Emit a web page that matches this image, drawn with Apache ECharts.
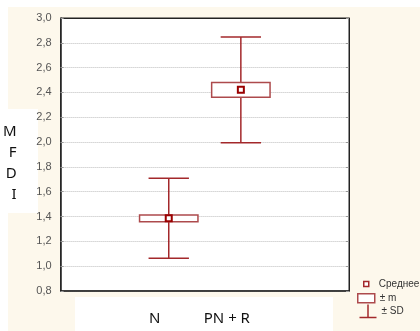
<!DOCTYPE html>
<html>
<head>
<meta charset="utf-8">
<script src="https://cdn.jsdelivr.net/npm/echarts@6/dist/echarts.min.js"></script>
<style>
  html, body {margin: 0; padding: 0; background: #fff;}
  #chart {width: 420px; height: 331px;}
</style>
</head>
<body>
<div id="chart"></div>
<script>
// category slots on the x axis (outer two are empty padding slots)
const categories = ['', 'N', 'PN + R', '']
const groups = ['N', 'PN + R']
const means = [1.386, 2.421]   // Среднее
const m = [0.027, 0.059]       // ± m (box half height)
const sd = [0.322, 0.426]      // ± SD (whisker half length)

const red = '#a3282b'
const boxRed = '#ad4a4c'
const cream = '#fdf8ec'

const rows = groups.map((g, i) => [g, means[i], m[i], sd[i]])

const chart = echarts.init(document.getElementById('chart'))

const boxItem = (params, api) => {
  const x = api.value(0)
  const mean = api.value(1)
  const half = api.value(2)
  const band = api.size([1, 0])[0]
  const top = api.coord([x, mean + half])
  const bot = api.coord([x, mean - half])
  const w = band * 0.81
  return {
    type: 'rect',
    shape: {x: top[0] - w / 2, y: top[1], width: w, height: bot[1] - top[1]},
    style: {fill: '#fff', stroke: boxRed, lineWidth: 1.5}
  }
}

const sdItem = (params, api) => {
  const x = api.value(0)
  const mean = api.value(1)
  const half = api.value(2)
  const s = api.value(3)
  const band = api.size([1, 0])[0]
  const cap = band * 0.56
  const hi = api.coord([x, mean + s])
  const bh = api.coord([x, mean + half])
  const bl = api.coord([x, mean - half])
  const lo = api.coord([x, mean - s])
  const st = {stroke: red, lineWidth: 1.5}
  return {
    type: 'group',
    children: [
      {type: 'line', shape: {x1: hi[0], y1: hi[1], x2: bh[0], y2: bh[1]}, style: st},
      {type: 'line', shape: {x1: bl[0], y1: bl[1], x2: lo[0], y2: lo[1]}, style: st},
      {type: 'line', shape: {x1: hi[0] - cap / 2, y1: hi[1], x2: hi[0] + cap / 2, y2: hi[1]}, style: st},
      {type: 'line', shape: {x1: lo[0] - cap / 2, y1: lo[1], x2: lo[0] + cap / 2, y2: lo[1]}, style: st}
    ]
  }
}

const fmt = (v) => v.toFixed(1).replace('.', ',')
const legendText = {color: '#333', fontSize: 10, fontFamily: 'Liberation Sans'}

chart.setOption({
  backgroundColor: cream,
  animation: false,
  graphic: [
    {type: 'rect', z: -10, silent: true, shape: {x: 0, y: 0, width: 420, height: 7}, style: {fill: '#fff'}},
    {type: 'rect', z: -10, silent: true, shape: {x: 0, y: 0, width: 8, height: 331}, style: {fill: '#fff'}},
    {type: 'rect', z: -10, silent: true, shape: {x: 0, y: 109, width: 38, height: 104}, style: {fill: '#fff'}},
    {type: 'rect', z: -10, silent: true, shape: {x: 75, y: 297, width: 258, height: 34}, style: {fill: '#fff'}}
  ],
  grid: {
    left: 58, top: 18, right: 71, bottom: 40,
    show: true, backgroundColor: '#fff', borderColor: '#222', borderWidth: 1
  },
  legend: [
    {
      data: [{name: 'Среднее', icon: 'rect', itemStyle: {color: '#fff', borderColor: red, borderWidth: 1.5}}],
      left: 363, top: 279, itemWidth: 5, itemHeight: 5, padding: 0,
      textStyle: {...legendText, padding: [0, 0, 0, 5]}
    },
    {
      data: [{name: '± m', icon: 'path://M0,0H17V9H0Z', itemStyle: {color: '#fff', borderColor: boxRed, borderWidth: 1.5}}],
      left: 357, top: 293, itemWidth: 17, itemHeight: 9, padding: 0,
      textStyle: legendText
    },
    {
      data: [{name: '± SD', icon: 'path://M8.5,0V13M0,13H17', itemStyle: {color: 'none', borderColor: red, borderWidth: 1.5}}],
      left: 357, top: 302, itemWidth: 17, itemHeight: 13, padding: 0,
      textStyle: legendText
    }
  ],
  xAxis: [
    {
      type: 'category',
      data: categories,
      axisLine: {lineStyle: {color: '#222', width: 1.5}},
      axisTick: {alignWithLabel: true, inside: true, length: 3, lineStyle: {color: '#999'}},
      axisLabel: {
        interval: 0, margin: 20, padding: [0, 28, 0, 0],
        color: '#111', fontSize: 15, fontFamily: 'Noto Sans'
      }
    },
    {
      type: 'category',
      position: 'top',
      data: categories,
      axisLine: {lineStyle: {color: '#222'}},
      axisTick: {alignWithLabel: true, inside: true, length: 3, lineStyle: {color: '#999'}},
      axisLabel: {show: false}
    }
  ],
  yAxis: [
    {
      type: 'value',
      min: 0.8, max: 3.0, interval: 0.2,
      name: '{s|}\nM\nF\nD\nI',
      nameLocation: 'middle',
      nameRotate: 0,
      nameGap: 44,
      nameTextStyle: {
        color: '#111', fontSize: 15, fontFamily: 'Noto Sans', lineHeight: 21,
        rich: {s: {lineHeight: 17, fontSize: 1}}
      },
      axisLine: {show: true, lineStyle: {color: '#222', width: 1.5}},
      axisTick: {show: true, inside: true, length: 3, lineStyle: {color: '#999'}},
      axisLabel: {formatter: fmt, color: '#555', fontSize: 11, fontFamily: 'Liberation Sans', margin: 9},
      splitLine: {lineStyle: {color: '#bdbdbd', type: [1, 1]}}
    },
    {
      type: 'value',
      position: 'right',
      min: 0.8, max: 3.0, interval: 0.2,
      axisLine: {show: true, lineStyle: {color: '#222'}},
      axisTick: {show: true, inside: true, length: 3, lineStyle: {color: '#999'}},
      axisLabel: {show: false},
      splitLine: {show: false}
    }
  ],
  series: [
    {
      name: '± SD',
      type: 'custom',
      renderItem: sdItem,
      encode: {x: 0, y: 1},
      data: rows,
      z: 2
    },
    {
      name: '± m',
      type: 'custom',
      renderItem: boxItem,
      encode: {x: 0, y: 1},
      data: rows,
      z: 3
    },
    {
      name: 'Среднее',
      type: 'scatter',
      symbol: 'rect',
      symbolSize: 6,
      itemStyle: {color: '#fff', borderColor: '#9a0000', borderWidth: 2, opacity: 1},
      data: groups.map((g, i) => [g, means[i]]),
      z: 4
    }
  ]
})
</script>
</body>
</html>
